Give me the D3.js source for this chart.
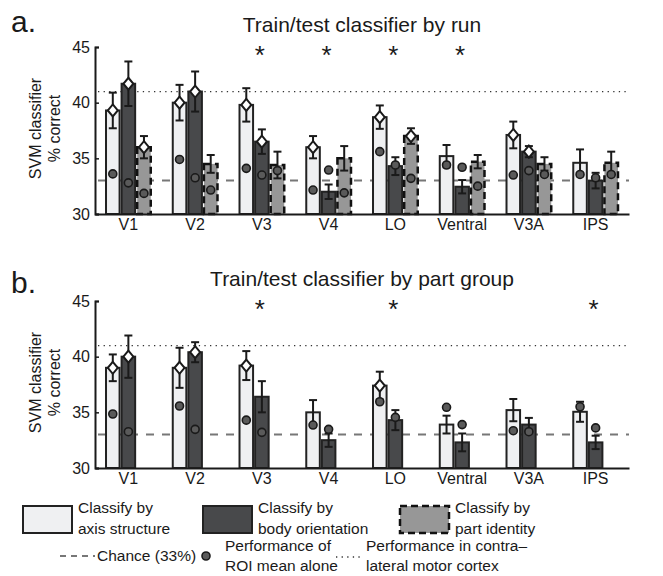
<!DOCTYPE html>
<html lang="en">
<head>
<meta charset="UTF-8">
<title>SVM classifier by ROI</title>
<style>
  body { margin: 0; background: #fff; }
  svg text { font-family: "Liberation Sans", Arial, sans-serif; fill: #1a1a1a; }
</style>
</head>
<body>
<div id="chart"></div>
<script src="https://cdn.jsdelivr.net/npm/d3@7"></script>
<script>
// regions of interest (x categories)
var regions = ["V1", "V2", "V3", "V4", "LO", "Ventral", "V3A", "IPS"];
var yTicks = [30, 35, 40, 45];
var chanceLevel = 33;
var motorCortex = 41;

// panel a: train/test by run
var axisRun = [39.3, 40.0, 39.8, 36.0, 38.7, 35.2, 37.1, 34.6];
var axisRunErr = [1.6, 1.6, 1.5, 1.0, 1.05, 1.0, 1.2, 1.2];
var axisRunRoi = [33.6, 34.9, 34.1, 32.15, 35.6, 34.4, 33.5, 33.55];
var axisRunDiamond = [1, 1, 1, 1, 1, 0, 1, 0];

var bodyRun = [41.7, 41.0, 36.5, 32.0, 34.3, 32.45, 35.6, 33.0];
var bodyRunErr = [2.0, 1.8, 1.1, 0.65, 0.8, 0.6, 0.5, 0.7];
var bodyRunRoi = [32.8, 33.25, 33.5, 33.95, 34.4, 34.2, 33.9, 33.25];
var bodyRunDiamond = [1, 1, 1, 0, 0, 0, 1, 0];

var partRun = [36.0, 34.5, 34.4, 35.0, 37.0, 34.7, 34.5, 34.6];
var partRunErr = [1.0, 0.8, 1.2, 1.1, 0.7, 0.6, 0.6, 1.0];
var partRunRoi = [31.85, 32.15, 33.9, 31.9, 33.2, 32.5, 33.55, 33.55];
var partRunDiamond = [1, 0, 0, 0, 1, 0, 0, 0];

var starsRun = [0, 0, 1, 1, 1, 1, 0, 0];

// panel b: train/test by part group
var axisGroup = [39.0, 39.0, 39.2, 35.0, 37.4, 33.9, 35.2, 35.05];
var axisGroupErr = [1.2, 1.8, 1.3, 1.1, 1.25, 0.8, 1.0, 0.9];
var axisGroupRoi = [34.85, 35.57, 34.3, 33.86, 35.95, 35.45, 33.35, 35.5];
var axisGroupDiamond = [1, 1, 1, 0, 1, 0, 0, 0];

var bodyGroup = [40.0, 40.4, 36.4, 32.5, 34.3, 32.3, 33.9, 32.3];
var bodyGroupErr = [1.9, 0.9, 1.4, 0.6, 0.9, 0.8, 0.6, 0.6];
var bodyGroupRoi = [33.26, 33.47, 33.2, 33.47, 34.55, 33.9, 33.26, 33.6];
var bodyGroupDiamond = [1, 1, 0, 0, 0, 0, 0, 0];

var starsGroup = [0, 0, 1, 0, 1, 0, 0, 1];

// legend texts
var legendBars = [["Classify by", "axis structure"], ["Classify by", "body orientation"], ["Classify by", "part identity"]];
var legendChance = "Chance (33%)";
var legendRoi = ["Performance of", "ROI mean alone"];
var legendMotor = ["Performance in contra\u2013", "lateral motor cortex"];

var styles = {
    axis: { fill: "#eff0f2", stroke: "#222", dash: null },
    body: { fill: "#48494b", stroke: "#222", dash: null },
    part: { fill: "#979797", stroke: "#111", dash: "7,4" }
};

var W = 663, H = 576;
var left = 95, right = 629;

var svg = d3.select("#chart").append("svg")
    .attr("width", W).attr("height", H);

var x = d3.scaleBand().domain(regions).range([left, right])
    .paddingInner(0.33).paddingOuter(0.165);
var xs = d3.scaleBand().domain(["axis", "body", "part"]).range([0, x.bandwidth()])
    .paddingInner(0.13);

function drawPanel(top, bottom, letter, title, series, stars) {
    var y = d3.scaleLinear().domain([30, 45]).range([bottom, top]);
    var g = svg.append("g");

    g.append("text").attr("x", 11).attr("y", top - 15 + (letter == "a." ? 0 : 7))
        .style("font-size", "30px").text(letter);
    g.append("text").attr("x", 362).attr("y", top - 15)
        .attr("text-anchor", "middle").style("font-size", "21px").text(title);

    // y label
    var mid = (top + bottom) / 2 - 2;
    g.append("text").attr("transform", "translate(41," + mid + ") rotate(-90)")
        .attr("text-anchor", "middle").style("font-size", "16px").text("SVM classifier");
    g.append("text").attr("transform", "translate(60," + mid + ") rotate(-90)")
        .attr("text-anchor", "middle").style("font-size", "16px").text("% correct");

    // reference lines
    g.append("line").attr("x1", left + 3).attr("x2", right)
        .attr("y1", y(motorCortex)).attr("y2", y(motorCortex))
        .attr("stroke", "#333").attr("stroke-width", 1.3).attr("stroke-dasharray", "1.3,4.3");
    g.append("line").attr("x1", left + 3).attr("x2", right)
        .attr("y1", y(chanceLevel)).attr("y2", y(chanceLevel))
        .attr("stroke", "#777").attr("stroke-width", 2).attr("stroke-dasharray", "8,8");

    series.forEach(function (s) {
        var st = styles[s.key];
        var data = regions.map(function (r, i) {
            return { r: r, v: s.vals[i], e: s.err[i], roi: s.roi[i], dia: s.diamond[i] };
        });
        var cx = function (d) { return x(d.r) + xs(s.key) + xs.bandwidth() / 2; };

        g.selectAll(".bar-" + s.key).data(data).enter().append("rect")
            .attr("x", function (d) { return x(d.r) + xs(s.key); })
            .attr("y", function (d) { return y(d.v); })
            .attr("width", xs.bandwidth())
            .attr("height", function (d) { return y(30) - y(d.v); })
            .attr("fill", st.fill).attr("stroke", st.stroke)
            .attr("stroke-width", s.key == "part" ? 2.5 : 2)
            .attr("stroke-dasharray", st.dash);

        // error bars
        var eb = g.selectAll(".eb-" + s.key).data(data).enter().append("g");
        eb.append("line")
            .attr("x1", cx).attr("x2", cx)
            .attr("y1", function (d) { return y(d.v - d.e); })
            .attr("y2", function (d) { return y(d.v + d.e); })
            .attr("stroke", "#1a1a1a").attr("stroke-width", 2);
        [1, -1].forEach(function (sg) {
            eb.append("line")
                .attr("x1", function (d) { return cx(d) - 4; })
                .attr("x2", function (d) { return cx(d) + 4; })
                .attr("y1", function (d) { return y(d.v + sg * d.e); })
                .attr("y2", function (d) { return y(d.v + sg * d.e); })
                .attr("stroke", "#1a1a1a").attr("stroke-width", 2);
        });

        // diamonds
        g.selectAll(".dia-" + s.key).data(data.filter(function (d) { return d.dia; }))
            .enter().append("path")
            .attr("d", function (d) {
                var px = cx(d), py = y(d.v);
                return "M" + px + "," + (py - 6) + "L" + (px + 5) + "," + py +
                    "L" + px + "," + (py + 6) + "L" + (px - 5) + "," + py + "Z";
            })
            .attr("fill", "#fff").attr("stroke", "#1a1a1a").attr("stroke-width", 2);

        // ROI mean alone
        g.selectAll(".roi-" + s.key).data(data).enter().append("circle")
            .attr("cx", cx).attr("cy", function (d) { return y(d.roi); })
            .attr("r", 4).attr("fill", "#5a5a5a").attr("stroke", "#1a1a1a").attr("stroke-width", 1.6);
    });

    // significance stars
    g.selectAll(".star").data(regions.filter(function (r, i) { return stars[i]; }))
        .enter().append("text")
        .attr("x", function (d) { return x(d) + x.bandwidth() / 2 - 2; })
        .attr("y", top + 17)
        .attr("text-anchor", "middle").style("font-size", "26px").text("*");

    // axes
    var ya = g.append("g").attr("transform", "translate(" + left + ",0)")
        .call(d3.axisLeft(y).tickValues(yTicks).tickSize(-4).tickPadding(5).tickFormat(d3.format("d")));
    ya.select(".domain").attr("stroke", "#1a1a1a").attr("stroke-width", 2);
    ya.selectAll(".tick line").attr("stroke", "#1a1a1a").attr("stroke-width", 1.5);
    ya.selectAll("text").style("font-size", "16px").attr("fill", "#1a1a1a")
        .style("font-family", "'Liberation Sans', Arial, sans-serif");

    var xa = g.append("g").attr("transform", "translate(0," + bottom + ")")
        .call(d3.axisBottom(x).tickSize(0).tickPadding(5));
    xa.select(".domain").attr("stroke", "#1a1a1a").attr("stroke-width", 2);
    xa.selectAll("text").style("font-size", "16px").attr("fill", "#1a1a1a")
        .style("font-family", "'Liberation Sans', Arial, sans-serif");
}

drawPanel(47, 214, "a.", "Train/test classifier by run", [
    { key: "axis", vals: axisRun, err: axisRunErr, roi: axisRunRoi, diamond: axisRunDiamond },
    { key: "body", vals: bodyRun, err: bodyRunErr, roi: bodyRunRoi, diamond: bodyRunDiamond },
    { key: "part", vals: partRun, err: partRunErr, roi: partRunRoi, diamond: partRunDiamond }
], starsRun);

drawPanel(301, 468, "b.", "Train/test classifier by part group", [
    { key: "axis", vals: axisGroup, err: axisGroupErr, roi: axisGroupRoi, diamond: axisGroupDiamond },
    { key: "body", vals: bodyGroup, err: bodyGroupErr, roi: bodyGroupRoi, diamond: bodyGroupDiamond }
], starsGroup);

// legend
var lg = svg.append("g");
var boxX = [23, 203, 400];
["axis", "body", "part"].forEach(function (k, i) {
    var st = styles[k];
    lg.append("rect").attr("x", boxX[i]).attr("y", 506).attr("width", 49).attr("height", 27)
        .attr("fill", st.fill).attr("stroke", st.stroke)
        .attr("stroke-width", k == "part" ? 2.5 : 2).attr("stroke-dasharray", st.dash);
    legendBars[i].forEach(function (t, j) {
        lg.append("text").attr("x", boxX[i] + 55).attr("y", 513 + j * 21)
            .style("font-size", "15.5px").text(t);
    });
});

lg.append("line").attr("x1", 60).attr("x2", 95).attr("y1", 556).attr("y2", 556)
    .attr("stroke", "#777").attr("stroke-width", 2).attr("stroke-dasharray", "6,5");
lg.append("text").attr("x", 97).attr("y", 561).style("font-size", "15.5px").text(legendChance);

lg.append("circle").attr("cx", 206).attr("cy", 556).attr("r", 4)
    .attr("fill", "#5a5a5a").attr("stroke", "#1a1a1a").attr("stroke-width", 1.6);
legendRoi.forEach(function (t, j) {
    lg.append("text").attr("x", 225).attr("y", 551 + j * 20).style("font-size", "15.5px").text(t);
});

lg.append("line").attr("x1", 336).attr("x2", 361).attr("y1", 557).attr("y2", 557)
    .attr("stroke", "#333").attr("stroke-width", 1.3).attr("stroke-dasharray", "1.3,4.3");
legendMotor.forEach(function (t, j) {
    lg.append("text").attr("x", 366).attr("y", 551 + j * 20).style("font-size", "15.5px").text(t);
});
</script>
</body>
</html>
